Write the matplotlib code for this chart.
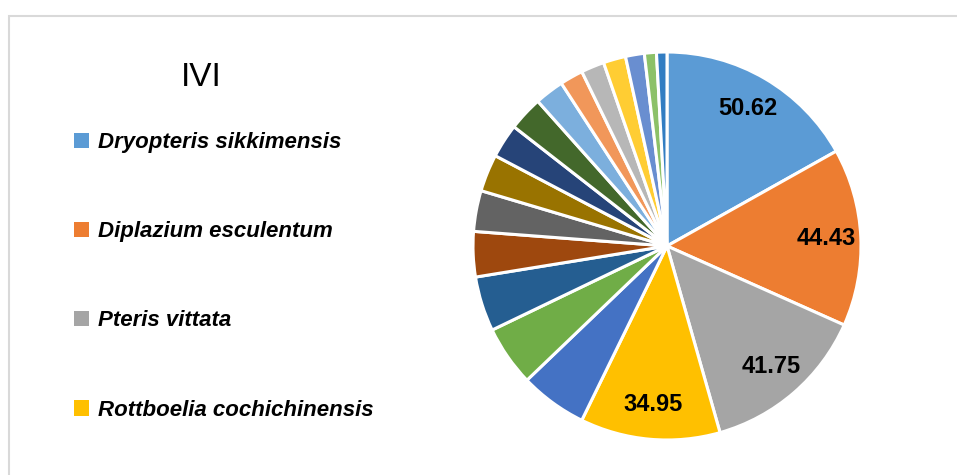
import matplotlib
matplotlib.use("Agg")
import matplotlib.pyplot as plt
from matplotlib.patches import Rectangle
import numpy as np

plt.rcParams['font.family'] = ['Liberation Sans', 'DejaVu Sans']

# IVI values, clockwise from 12 o'clock
ivi_values = [50.62, 44.43, 41.75, 34.95, 16.8, 15.1, 13.7, 11.3, 10.2, 9.3,
              8.5, 8.6, 7.3, 5.8, 5.8, 5.6, 4.7, 3.0, 2.6]
legend_names = ['Dryopteris sikkimensis', 'Diplazium esculentum',
                'Pteris vittata', 'Rottboelia cochichinensis']
value_labels = ['50.62', '44.43', '41.75', '34.95']
slice_colors = ['#5B9BD5', '#ED7D31', '#A5A5A5', '#FFC000', '#4472C4', '#70AD47',
                '#255E91', '#9E480E', '#636363', '#997300', '#264478', '#43682B',
                '#7CAFDD', '#F1975A', '#B7B7B7', '#FFCD33', '#698ED0', '#8CC168',
                '#327DC2']

W, H = 957, 475
fig = plt.figure(figsize=(W / 100, H / 100), dpi=100)

# light chart-area border (only left and top visible in the crop)
fig.patches.append(Rectangle((9 / W, -0.5), 2, (H - 16) / H + 0.5,
                             transform=fig.transFigure, fill=False,
                             edgecolor='#d9d9d9', linewidth=1.5))

cx, cy, r = 667, 246, 194
ax = fig.add_axes([(cx - r) / W, (H - cy - r) / H, 2 * r / W, 2 * r / H])
wedges, _ = ax.pie(ivi_values, colors=slice_colors, startangle=90,
                   counterclock=False, radius=1,
                   wedgeprops=dict(edgecolor='white', linewidth=2.2))
ax.set_xlim(-1, 1)
ax.set_ylim(-1, 1)
ax.set_aspect('auto')
ax.axis('off')

# data labels on the four biggest slices
for w, txt in zip(wedges, value_labels):
    mid = np.deg2rad((w.theta1 + w.theta2) / 2)
    ax.text(0.82 * np.cos(mid), 0.82 * np.sin(mid), txt, ha='center', va='center',
            fontsize=17, fontweight='bold', color='black')

fig.text(201 / W, (H - 77) / H, 'IVI', ha='center', va='center', fontsize=24)

leg = fig.legend(wedges[:4], legend_names, loc='upper left',
                 bbox_to_anchor=(74 / W, (H - 132) / H), frameon=False,
                 borderpad=0, borderaxespad=0, handlelength=0.68,
                 handleheight=0.68, handletextpad=0.42, labelspacing=3.07,
                 prop=dict(size=16, weight='bold', style='italic'))
for h in leg.legend_handles:
    h.set_linewidth(0)

fig.savefig('out.png', dpi=100)
